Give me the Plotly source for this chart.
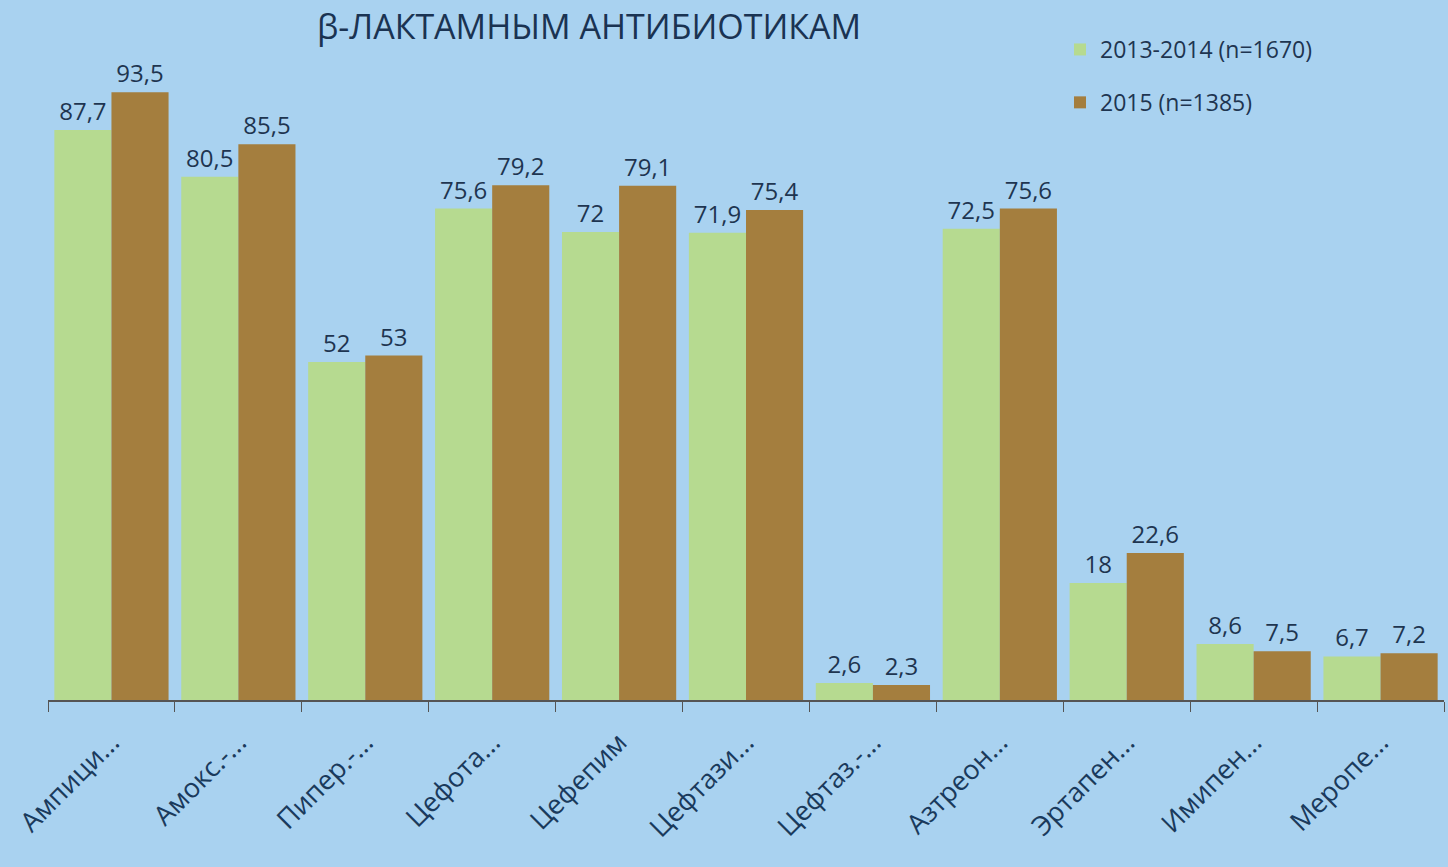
import plotly.graph_objects as go

categories = ["Ампици...", "Амокс.-...", "Пипер.-...", "Цефота...", "Цефепим", "Цефтази...",
              "Цефтаз.-...", "Азтреон...", "Эртапен...", "Имипен...", "Меропе..."]
s2013 = [87.7, 80.5, 52, 75.6, 72, 71.9, 2.6, 72.5, 18, 8.6, 6.7]
s2015 = [93.5, 85.5, 53, 79.2, 79.1, 75.4, 2.3, 75.6, 22.6, 7.5, 7.2]
name2013 = "2013-2014 (n=1670)"
name2015 = "2015 (n=1385)"
title_text = "β-ЛАКТАМНЫМ АНТИБИОТИКАМ"

def fmt(v):
    s = ("%g" % v)
    return s.replace(".", ",")

W, H = 1448, 867
ml, mr, mt, mb = 48, 4, 50, 167
ph = H - mt - mb
pw = W - ml - mr

txtc = "#1E3550"
fig = go.Figure()
fig.add_trace(go.Bar(x=categories, y=s2013, name=name2013, marker_color="#B6DA90",
                     marker_line_width=0, text=[fmt(v) for v in s2013], textposition="outside",
                     textfont=dict(size=24, color=txtc), cliponaxis=False, constraintext="none",
                     legendgroup="a"))
fig.add_trace(go.Bar(x=categories, y=s2015, name=name2015, marker_color="#A47E3E",
                     marker_line_width=0, text=[fmt(v) for v in s2015], textposition="outside",
                     textfont=dict(size=24, color=txtc), cliponaxis=False, constraintext="none",
                     legendgroup="b"))

fig.add_annotation(text=title_text, xref="paper", yref="paper", x=(315 - ml) / pw,
                   y=(H - mb - 1) / ph, xanchor="left", yanchor="top", showarrow=False,
                   font=dict(size=34, color="#1A3352", family="Open Sans"))

fig.update_layout(
    width=W, height=H,
    margin=dict(l=ml, r=mr, t=mt, b=mb),
    paper_bgcolor="#A9D2F0", plot_bgcolor="#A9D2F0",
    barmode="group", bargap=0.1, bargroupgap=0,
    font=dict(family="Open Sans", color=txtc),
    showlegend=True,
    legend=dict(x=(1060 - ml) / pw, y=(H - mb - 28) / ph, xanchor="left", yanchor="top",
                bgcolor="rgba(0,0,0,0)", font=dict(size=23, color=txtc), tracegroupgap=20,
                itemwidth=30),
    xaxis=dict(showline=True, linecolor="#555555", linewidth=1.5, ticks="outside",
               tickson="boundaries", ticklen=10, tickcolor="#555555", tickangle=-45,
               ticklabelstandoff=14,
               tickfont=dict(size=27, color="#1A3A5C"), showgrid=False),
    yaxis=dict(range=[0, 100], visible=False, showgrid=False),
)

fig.write_html("out.html")
